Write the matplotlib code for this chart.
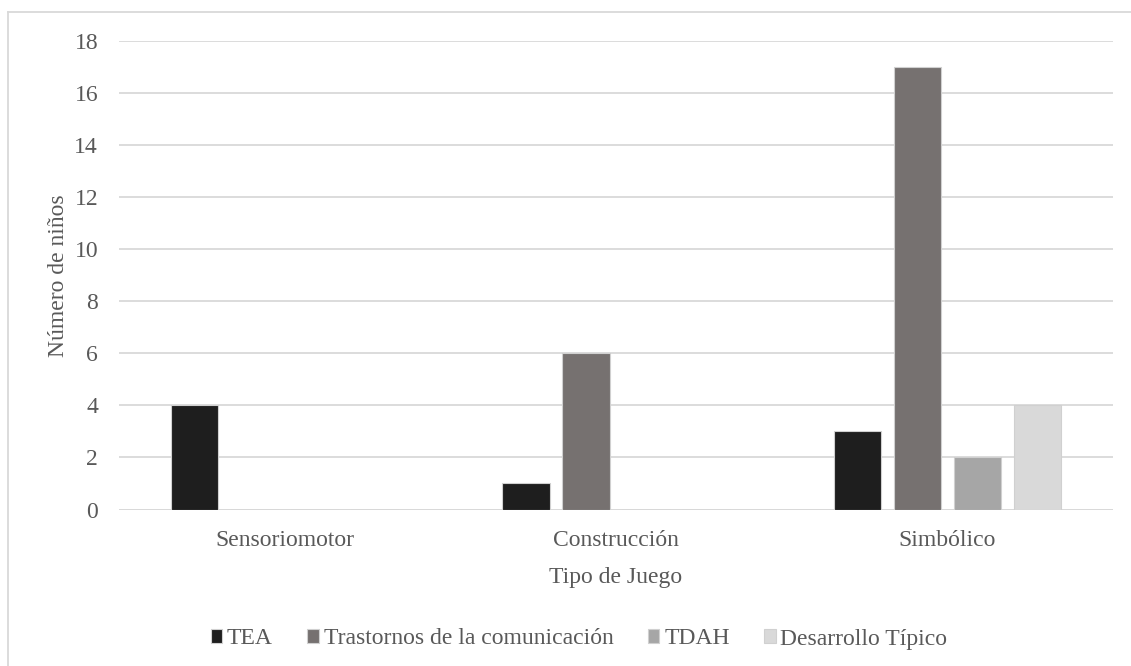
import numpy as np
import matplotlib.pyplot as plt
from matplotlib.lines import Line2D

# Tipos de juego y número de niños por grupo
categorias = ["Sensoriomotor", "Construcción", "Simbólico"]
grupos = ["TEA", "Trastornos de la comunicación", "TDAH", "Desarrollo Típico"]
tea = [4, 1, 3]
comunicacion = [0, 6, 17]
tdah = [0, 0, 2]
desarrollo = [0, 0, 4]
valores = [tea, comunicacion, tdah, desarrollo]
colores = ["#1e1e1e", "#767170", "#a6a6a6", "#d9d9d9"]

plt.rcParams["font.family"] = ["Liberation Serif", "DejaVu Serif"]
texto = "#595959"

fig = plt.figure(figsize=(11.31, 6.66), dpi=100)
ax = fig.add_axes([119 / 1131, 1 - 509.5 / 666, 994 / 1131, 468.2 / 666])

x = np.arange(len(categorias))
paso = 0.181
ancho = 0.143
for i, (serie, col) in enumerate(zip(valores, colores)):
    pos = x + (i - 1.5) * paso
    ax.bar(pos, serie, width=ancho, color=col, edgecolor="#d0d0d0",
           linewidth=0.8, label=grupos[i], zorder=3)

ax.set_xlim(-0.5, 2.5)
ax.set_ylim(0, 18)
ax.set_yticks(range(0, 19, 2))
ax.set_xticks(x)
ax.set_xticklabels(categorias)
ax.grid(axis="y", color="#d9d9d9", linewidth=1.3, zorder=0)
ax.tick_params(axis="both", length=0, labelsize=17, colors=texto)
ax.tick_params(axis="y", pad=15)
ax.tick_params(axis="x", pad=15)
for s in ax.spines.values():
    s.set_visible(False)
ax.axhline(0, color="#d9d9d9", linewidth=1.3, zorder=2)

ax.set_ylabel("Número de niños", fontsize=17, color=texto, labelpad=4)
ax.set_xlabel("Tipo de Juego", fontsize=17, color=texto, labelpad=11)

ax.legend(loc="center", bbox_to_anchor=(579 / 1131, (666 - 639) / 666), bbox_transform=fig.transFigure,
          ncol=4, frameon=False, fontsize=17, labelcolor=texto,
          handlelength=0.5, handleheight=0.5, handletextpad=0.2, columnspacing=1.45)

# marco exterior del gráfico
fig.add_artist(Line2D([8 / 1131, 8 / 1131], [0, 1 - 12 / 666], transform=fig.transFigure,
                      color="#d9d9d9", linewidth=1.3))
fig.add_artist(Line2D([8 / 1131, 1], [1 - 12 / 666, 1 - 12 / 666], transform=fig.transFigure,
                      color="#d9d9d9", linewidth=1.3))

fig.savefig("out.png", dpi=100)
